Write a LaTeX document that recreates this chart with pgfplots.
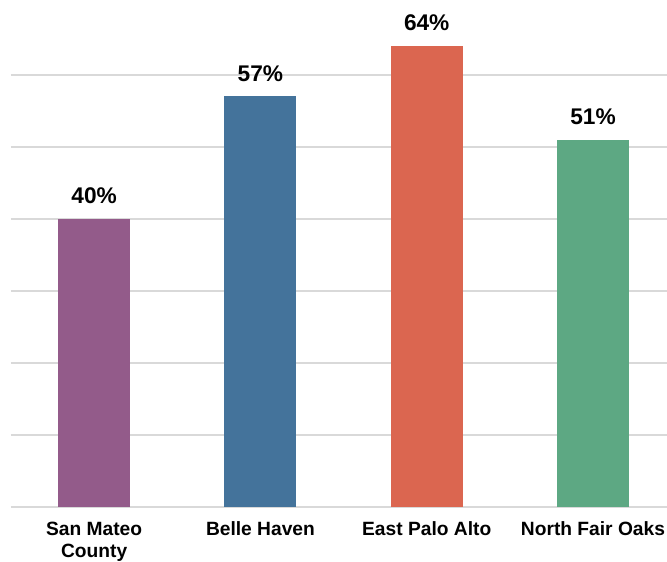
\documentclass[border=0pt]{standalone}
\usepackage{pgfplots}
\pgfplotsset{compat=1.18}
\usepackage{fontspec}
\setmainfont{Liberation Sans}

\definecolor{cpurple}{HTML}{935B8A}
\definecolor{cblue}{HTML}{44739B}
\definecolor{cred}{HTML}{DB6650}
\definecolor{cgreen}{HTML}{5DA883}
\definecolor{gridgray}{HTML}{D9D9D9}

\begin{document}
\begin{tikzpicture}
  \begin{axis}[
    name=ax,
    scale only axis,
    width=492pt,
    height=380.25pt,
    ybar,
    bar width=54pt,
    ymin=0, ymax=70.4,
    xmin=-0.5, xmax=3.445,
    ytick={0,10,...,60},
    yticklabels={},
    xtick={0,1,2,3},
    xticklabels={{San Mateo\\County},{Belle Haven},{East Palo Alto},{North Fair Oaks}},
    xticklabel style={anchor=north, inner sep=0pt, yshift=-11pt, align=center,
      font=\fontsize{14.4}{16.5}\selectfont\bfseries},
    major tick length=0pt,
    axis line style={draw=none},
    ymajorgrids,
    grid style={gridgray, line width=1.6pt},
    /pgf/number format/assume math mode=true,
    nodes near coords={\pgfmathprintnumber{\pgfplotspointmeta}\%},
    every node near coord/.append style={anchor=base, yshift=11.5pt, inner sep=0pt,
      font=\fontsize{17}{20}\selectfont\bfseries, black},
    ]
    \addplot[fill=cpurple, draw=none, bar shift=0pt] coordinates {(0,40)};
    \addplot[fill=cblue, draw=none, bar shift=0pt] coordinates {(1,57)};
    \addplot[fill=cred, draw=none, bar shift=0pt] coordinates {(2,64)};
    \addplot[fill=cgreen, draw=none, bar shift=0pt] coordinates {(3,51)};
  \end{axis}
  \pgfresetboundingbox
  \path (ax.south west) ++(-8.25pt,-40.5pt) rectangle (ax.north east);
\end{tikzpicture}
\end{document}
